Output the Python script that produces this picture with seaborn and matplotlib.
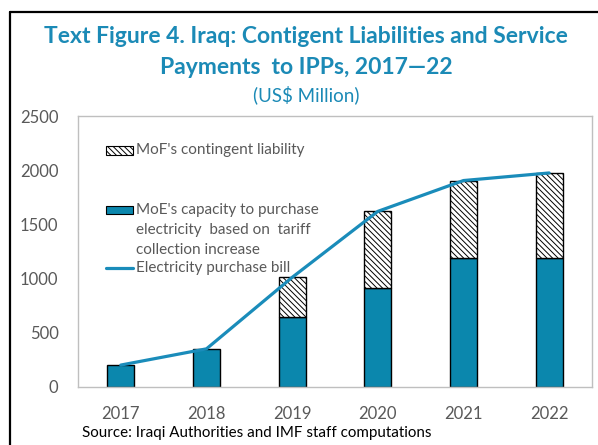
import numpy as np
import pandas as pd
import matplotlib
matplotlib.use("Agg")
import matplotlib.pyplot as plt
from matplotlib.patches import Rectangle
from matplotlib.lines import Line2D
import seaborn as sns

# Data (US$ million)
years = ["2017", "2018", "2019", "2020", "2021", "2022"]
moe_capacity = [200, 350, 640, 910, 1190, 1190]
mof_liability = [0, 0, 370, 710, 715, 785]
purchase_bill = [200, 350, 1010, 1620, 1905, 1975]
y_ticks = [0, 500, 1000, 1500, 2000, 2500]

TEAL = "#0B87AD"
LINE = "#1A8CBA"
TITLE = "#1B8AB6"
GRAY = "#595959"
SPINE = "#BFBFBF"
HATCH = "\\\\\\\\\\\\"

sns.set_theme(style="white")
plt.rcParams["font.family"] = ["Lato", "DejaVu Sans"]
plt.rcParams["hatch.linewidth"] = 0.7
plt.rcParams["hatch.color"] = "#333333"

df = pd.DataFrame({"year": years, "moe": moe_capacity,
                   "mof": mof_liability, "bill": purchase_bill})

fig = plt.figure(figsize=(5.98, 4.45), dpi=100)
ax = fig.add_axes([0.1304, 0.131, 0.8595, 0.608])

# Stacked bars: MoE capacity at the bottom, MoF liability on top
sns.barplot(data=df, x="year", y="moe", color=TEAL, saturation=1,
            width=0.315, edgecolor="black", linewidth=1.0, ax=ax, zorder=2)
sns.barplot(data=df, x="year", y="mof", bottom=df["moe"], color="white",
            saturation=1, width=0.315, edgecolor="black", linewidth=1.0,
            hatch=HATCH, ax=ax, zorder=2)
for p in ax.patches[len(years):]:
    if p.get_height() == 0:
        p.set_visible(False)

# Electricity purchase bill line
sns.lineplot(x=np.arange(len(years)), y=df["bill"], color=LINE,
             linewidth=2.3, ax=ax, zorder=3)

ax.set_xlim(-0.5, len(years) - 0.5)
ax.set_ylim(0, 2500)
ax.set_yticks(y_ticks)
ax.set_yticklabels([str(v) for v in y_ticks])
ax.set_xlabel("")
ax.set_ylabel("")

ax.tick_params(axis="y", direction="in", length=5, width=0.8, color=SPINE,
               labelsize=12, labelcolor=GRAY, pad=14)
ax.tick_params(axis="x", which="major", length=0, labelsize=12,
               labelcolor=GRAY, pad=14)
ax.set_xticks(np.arange(0.5, len(years) - 0.5), minor=True)
ax.tick_params(axis="x", which="minor", direction="in", length=5,
               width=0.8, color=SPINE)

for s in ax.spines.values():
    s.set_color(SPINE)
    s.set_linewidth(1.0)

# Legend, drawn in axes coordinates
tr = ax.transAxes
ax.add_patch(Rectangle((0.0545, 0.857), 0.0525, 0.034, transform=tr,
                       facecolor="white", edgecolor="black", linewidth=0.8,
                       hatch=HATCH, clip_on=False, zorder=4))
ax.add_patch(Rectangle((0.0545, 0.637), 0.0525, 0.030, transform=tr,
                       facecolor=TEAL, edgecolor="black", linewidth=0.8,
                       clip_on=False, zorder=4))
ax.add_line(Line2D([0.0545, 0.107], [0.437, 0.437], transform=tr,
                   color=LINE, linewidth=2.3, zorder=4))
leg_kw = dict(transform=tr, fontsize=11, color=GRAY, va="center",
              ha="left", zorder=4)
ax.text(0.113, 0.874, "MoF's contingent liability", **leg_kw)
ax.text(0.113, 0.652, "MoE's capacity to purchase", **leg_kw)
ax.text(0.113, 0.578, "electricity  based on  tariff", **leg_kw)
ax.text(0.113, 0.504, "collection increase", **leg_kw)
ax.text(0.113, 0.437, "Electricity purchase bill", **leg_kw)

# Titles
fig.text(0.512, 0.917, "Text Figure 4. Iraq: Contigent Liabilities and Service",
         ha="center", va="center", fontsize=16.5, fontweight="bold", color=TITLE)
fig.text(0.512, 0.849, "Payments  to IPPs, 2017\u201422",
         ha="center", va="center", fontsize=16.5, fontweight="bold", color=TITLE)
fig.text(0.512, 0.787, "(US$ Million)", ha="center", va="center",
         fontsize=13.5, color=TITLE)

fig.text(0.137, 0.027, "Source: Iraqi Authorities and IMF staff computations",
         ha="left", va="center", fontsize=10.9, color="black")

# Outer frame
fig.add_artist(Line2D([10 / 598, 10 / 598], [0, 1 - 12 / 445],
                      transform=fig.transFigure, color="black", linewidth=1.6))
fig.add_artist(Line2D([10 / 598, 1], [1 - 12 / 445, 1 - 12 / 445],
                      transform=fig.transFigure, color="black", linewidth=1.6))

fig.savefig("out.png", dpi=100)
